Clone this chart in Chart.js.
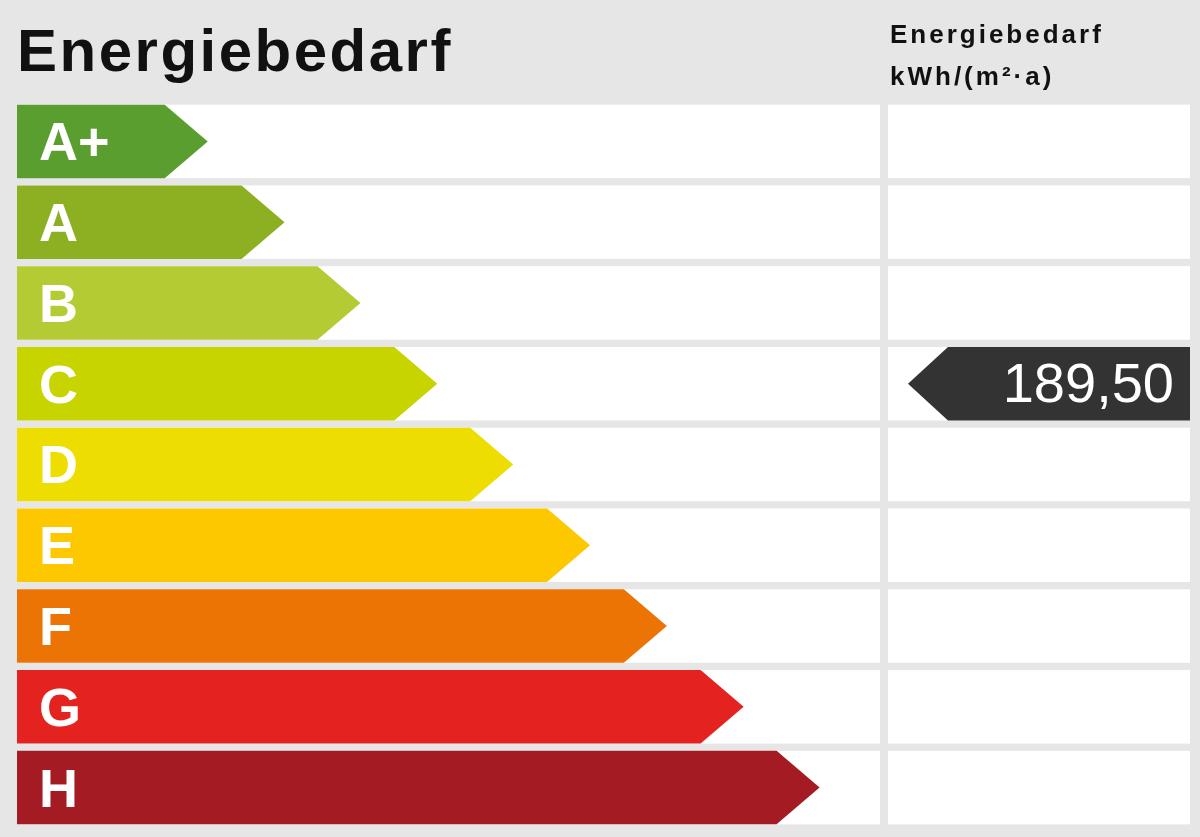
<!DOCTYPE html>
<html><head><meta charset="utf-8">
<script src="https://cdn.jsdelivr.net/npm/chart.js@4"></script>
<style>
html,body{margin:0;padding:0;background:#e6e6e6;overflow:hidden}
#wrap{position:relative;width:1200px;height:837px}
canvas{position:absolute;left:0;top:0}
.t{position:absolute;font-family:"Liberation Sans",Arial,sans-serif;font-weight:bold;color:#111}
</style></head><body>
<div id="wrap">
<canvas id="c" width="1200" height="837"></canvas>
<div class="t" style="left:17px;top:16px;font-size:60px;letter-spacing:2.5px">Energiebedarf</div>
<div class="t" style="left:890px;top:13px;font-size:26px;line-height:42px;letter-spacing:3px">Energiebedarf<br>kWh/(m²·a)</div>
</div>
<script>
const classes = ["A+","A","B","C","D","E","F","G","H"];
const barLengths = [22.1,31.0,39.8,48.7,57.5,66.4,75.3,84.2,93.0];
const colors = ["#5a9e2f","#8cb022","#b5cb34","#c8d400","#eedd00","#fdc800","#ec7404","#e42320","#a51b24"];
const currentValue = "189,50";
const currentClass = "C";

const energyPlugin = {
  id:'energy',
  beforeDatasetsDraw(chart){
    const ctx = chart.ctx, a = chart.chartArea;
    const meta = chart.getDatasetMeta(0);
    ctx.save();
    meta.data.forEach((el,i)=>{
      const h = el.height, top = el.y - h/2;
      ctx.fillStyle = "#ffffff";
      ctx.fillRect(a.left, top, a.right - a.left, h);
      ctx.fillRect(888, top, 302, h);
      const tipLen = 43;
      ctx.fillStyle = colors[i];
      ctx.beginPath();
      ctx.moveTo(el.base, top);
      ctx.lineTo(el.x - tipLen, top);
      ctx.lineTo(el.x, el.y);
      ctx.lineTo(el.x - tipLen, top + h);
      ctx.lineTo(el.base, top + h);
      ctx.closePath(); ctx.fill();
      ctx.fillStyle = "#ffffff";
      ctx.font = "bold 54px 'Liberation Sans', Arial, sans-serif";
      ctx.textBaseline = "middle";
      ctx.fillText(classes[i], a.left + 22, el.y + 4);
      if (classes[i] === currentClass){
        ctx.fillStyle = "#333333";
        ctx.beginPath();
        ctx.moveTo(1190, top); ctx.lineTo(948, top);
        ctx.lineTo(908, el.y); ctx.lineTo(948, top + h);
        ctx.lineTo(1190, top + h); ctx.closePath(); ctx.fill();
        ctx.fillStyle = "#ffffff";
        ctx.font = "56px 'Liberation Sans', Arial, sans-serif";
        ctx.textAlign = "right";
        ctx.fillText(currentValue, 1174, el.y + 3);
        ctx.textAlign = "left";
      }
    });
    ctx.restore();
  }
};

new Chart(document.getElementById('c'), {
  type:'bar',
  data:{labels:classes, datasets:[{data:barLengths, backgroundColor:'rgba(0,0,0,0)', barPercentage:0.91, categoryPercentage:1}]},
  options:{
    indexAxis:'y', responsive:false, animation:false,
    layout:{padding:{left:17,right:320,top:101,bottom:9}},
    plugins:{legend:{display:false},tooltip:{enabled:false}},
    scales:{x:{display:false,min:0,max:100},y:{display:false}}
  },
  plugins:[energyPlugin]
});
</script>
</body></html>
